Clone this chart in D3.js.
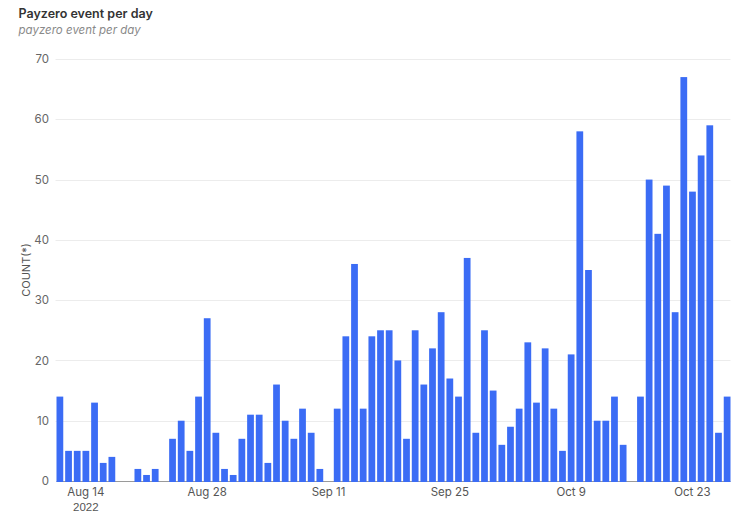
<!DOCTYPE html>
<html>
<head>
<meta charset="utf-8">
<script src="https://cdn.jsdelivr.net/npm/d3@7/dist/d3.min.js"></script>
<style>
  html, body { margin: 0; padding: 0; background: #fff; }
  svg { display: block; font-family: Inter, "Liberation Sans", sans-serif; }
</style>
</head>
<body>
<svg id="chart" width="740" height="516"></svg>
<script>
// ---- data ----
const startDate = "2022-08-11";
const counts = [
  14, 5, 5, 5, 13, 3, 4, 0, 0, 2, 1, 2, 0, 7, 10, 5, 14, 27, 8, 2,
  1, 7, 11, 11, 3, 16, 10, 7, 12, 8, 2, 0, 12, 24, 36, 12, 24, 25, 25, 20,
  7, 25, 16, 22, 28, 17, 14, 37, 8, 25, 15, 6, 9, 12, 23, 13, 22, 12, 5, 21,
  58, 35, 10, 10, 14, 6, 0, 14, 50, 41, 49, 28, 67, 48, 54, 59, 8, 14
];
const yTicks = [0, 10, 20, 30, 40, 50, 60, 70];
const xTickDates = ["2022-08-14", "2022-08-28", "2022-09-11", "2022-09-25", "2022-10-09", "2022-10-23"];
const xTickLabels = ["Aug 14", "Aug 28", "Sep 11", "Sep 25", "Oct 9", "Oct 23"];
const title = "Payzero event per day";
const subtitle = "payzero event per day";
const yLabel = "COUNT(*)";

// ---- build ----
(function () {
const parse = d3.timeParse("%Y-%m-%d");
const fmt = d3.timeFormat("%Y-%m-%d");
const start = parse(startDate);
const data = counts.map((v, i) => ({ date: fmt(d3.timeDay.offset(start, i)), value: v }));

const svg = d3.select("#chart");
const pl = 56.5, pr = 730.5, pt = 59, pb = 481;

const x = d3.scaleBand().domain(data.map(d => d.date)).range([pl, pr]).paddingInner(0.22).paddingOuter(0);
const y = d3.scaleLinear().domain([0, 70]).range([pb, pt]);

// title
svg.append("text").attr("x", 18.5).attr("y", 18)
  .attr("font-size", 12.5).attr("font-weight", 600).attr("fill", "#333").text(title);
svg.append("text").attr("x", 18.5).attr("y", 33.5)
  .attr("font-size", 11.5).attr("font-style", "italic").attr("fill", "#8a8a8a").text(subtitle);

// grid
svg.append("g").selectAll("line").data(yTicks.filter(t => t > 0)).join("line")
  .attr("x1", pl - 1).attr("x2", pr)
  .attr("y1", d => Math.round(y(d)) + 0.5).attr("y2", d => Math.round(y(d)) + 0.5)
  .attr("stroke", "#ececec").attr("stroke-width", 1);

// y axis
const yAxis = d3.axisLeft(y).tickValues(yTicks).tickSize(0).tickPadding(0);
const gy = svg.append("g").attr("transform", `translate(49,0)`).call(yAxis);
gy.select(".domain").remove();
gy.selectAll("text").attr("font-size", 11.5).attr("fill", "#666").attr("font-family", "Inter, 'Liberation Sans', sans-serif");

svg.append("text")
  .attr("transform", `translate(26,${(pt + pb) / 2}) rotate(-90)`)
  .attr("text-anchor", "middle").attr("dominant-baseline", "central")
  .attr("font-size", 11).attr("fill", "#555").text(yLabel);

// baseline
svg.append("line").attr("x1", pl).attr("x2", pr)
  .attr("y1", pb + 0.5).attr("y2", pb + 0.5)
  .attr("stroke", "#9a9a9a").attr("stroke-width", 1);

// bars
svg.append("g").selectAll("rect").data(data.filter(d => d.value > 0)).join("rect")
  .attr("x", d => x(d.date))
  .attr("width", x.bandwidth())
  .attr("y", d => y(d.value))
  .attr("height", d => y(0) - y(d.value) + 1)
  .attr("fill", "#3b6cf5");

// x axis
const xAxis = d3.axisBottom(x).tickValues(xTickDates)
  .tickFormat((d, i) => xTickLabels[i]).tickSize(0).tickPadding(0);
const gx = svg.append("g").attr("transform", `translate(0,${pb + 7})`).call(xAxis);
gx.select(".domain").remove();
gx.selectAll("text").attr("font-size", 11.5).attr("fill", "#555").attr("font-family", "Inter, 'Liberation Sans', sans-serif");
gx.selectAll(".tick").filter((d, i) => i === 0).append("text")
  .attr("y", 15).attr("dy", "0.71em").attr("text-anchor", "middle")
  .attr("font-size", 11.5).attr("fill", "#555").text("2022");
})();
</script>
</body>
</html>
